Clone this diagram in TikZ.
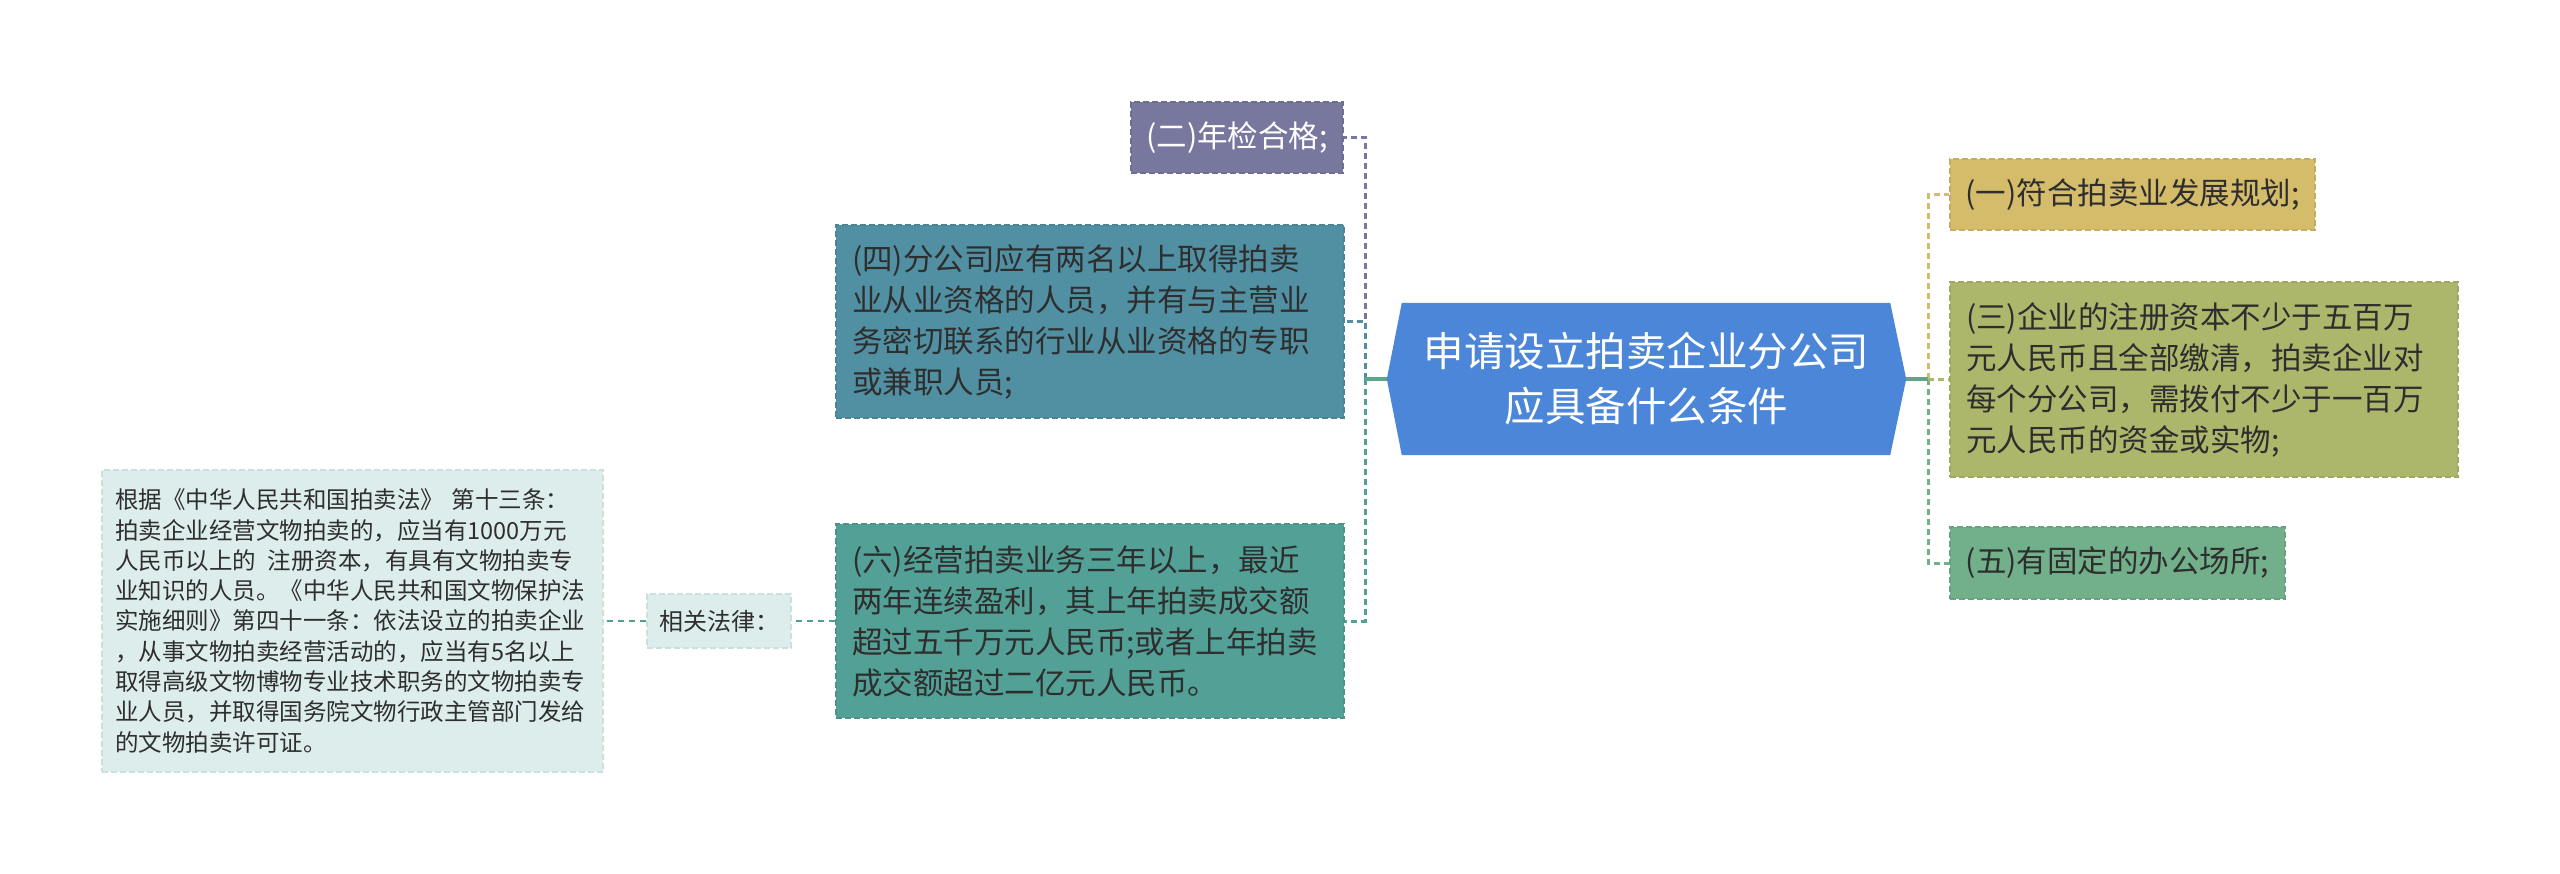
\documentclass[tikz,border=0pt]{standalone}
\usepackage{fontspec}
\setmainfont{Noto Sans CJK SC}
\usetikzlibrary{backgrounds}
\definecolor{cblue}{HTML}{4B86D9}
\definecolor{cpurple}{HTML}{78789F}
\definecolor{cteal}{HTML}{5090A2}
\definecolor{cgreenteal}{HTML}{53A096}
\definecolor{clight}{HTML}{DDEDEC}
\definecolor{clightb}{HTML}{C9E0DD}
\definecolor{cgold}{HTML}{D4BC6B}
\definecolor{colive}{HTML}{ADB76B}
\definecolor{cgreen}{HTML}{72B08B}
\definecolor{cstub}{HTML}{5FA58A}
\definecolor{clawline}{HTML}{4F9E8E}
\definecolor{txt}{HTML}{2E2E2E}
\begin{document}
\begin{tikzpicture}[x=1pt,y=-1pt,
  box/.style={rectangle, inner sep=0pt, text=txt, line width=1.8pt,
    dash pattern=on 6pt off 3pt, font=\fontsize{30.5}{41}\selectfont},
  multibox/.style={box, text width=476pt, inner xsep=16pt, align=left, minimum width=508pt},
  conn/.style={line width=3pt, dash pattern=on 6pt off 4pt},
  stub/.style={line width=3.2pt, draw=cstub},
  lawline/.style={line width=2.4pt, draw=clawline, dash pattern=on 6pt off 5pt}]
\useasboundingbox (0,0) rectangle (2560,873);

% central node
\node[text=white, inner sep=0pt, minimum width=519pt, minimum height=152pt, align=center,
  font=\fontsize{40.5}{55}\selectfont] (c) at (1646.5,379) {申请设立拍卖企业分公司\\应具备什么条件};
\begin{pgfonlayer}{background}
\fill[white] (0,0) rectangle (2560,873);
\fill[cblue] ([xshift=15pt]c.north west) -- ([xshift=-16pt]c.north east) -- (c.east)
  -- ([xshift=-16pt]c.south east) -- ([xshift=15pt]c.south west) -- (c.west) -- cycle;
\end{pgfonlayer}

% left branches
\node[box, fill=cpurple, draw=cpurple!92!black, text=white, minimum width=212pt, minimum height=71pt]
  (n2) at (1237,137.5) {(二)年检合格;};
\node[multibox, fill=cteal, draw=cteal!92!black, minimum height=193pt]
  (n4) at (1090,321.5) {(四)分公司应有两名以上取得拍卖\\业从业资格的人员，并有与主营业\\务密切联系的行业从业资格的专职\\或兼职人员;};
\node[multibox, fill=cgreenteal, draw=cgreenteal!92!black, minimum height=194pt]
  (n6) at (1090,621) {(六)经营拍卖业务三年以上，最近\\两年连续盈利，其上年拍卖成交额\\超过五千万元人民币;或者上年拍卖\\成交额超过二亿元人民币。};

% right branches
\node[box, fill=cgold, draw=cgold!92!black, minimum width=365pt, minimum height=71pt]
  (n1) at (2132.5,194.5) {(一)符合拍卖业发展规划;};
\node[multibox, fill=colive, draw=colive!92!black, minimum height=195pt]
  (n3) at (2204,379.5) {(三)企业的注册资本不少于五百万\\元人民币且全部缴清，拍卖企业对\\每个分公司，需拨付不少于一百万\\元人民币的资金或实物;};
\node[box, fill=cgreen, draw=cgreen!92!black, minimum width=335pt, minimum height=72pt]
  (n5) at (2117.5,563) {(五)有固定的办公场所;};

% law nodes
\node[box, fill=clight, draw=clightb, minimum width=144pt, minimum height=54pt,
  font=\fontsize{24}{30}\selectfont] (nl) at (719,621) {相关法律：};
\node[box, fill=clight, draw=clightb, text width=475pt, inner xsep=13pt, align=left,
  minimum height=302pt, font=\fontsize{23.5}{30.3}\selectfont] (nt) at (352.5,621)
  {根据《中华人民共和国拍卖法》 第十三条：\\拍卖企业经营文物拍卖的，应当有1000万元\\人民币以上的\hspace{12pt}注册资本，有具有文物拍卖专\\业知识的人员。《中华人民共和国文物保护法\\实施细则》第四十一条：依法设立的拍卖企业\\，从事文物拍卖经营活动的，应当有5名以上\\取得高级文物博物专业技术职务的文物拍卖专\\业人员，并取得国务院文物行政主管部门发给\\的文物拍卖许可证。};

% connectors
\coordinate (L) at (1365,379);
\coordinate (R) at (1928,379);
\draw[conn, draw=cpurple] (L) |- (n2.east);
\draw[conn, draw=cteal] (L) |- (n4.east);
\draw[conn, draw=cgreenteal] (L) |- (n6.east);
\draw[stub] (c.west) -- (L);

\draw[conn, draw=cgreen] (R) |- (n5.west);
\draw[conn, draw=cgold] (R) |- (n1.west);
\draw[conn, draw=colive] (R) |- (n3.west);
\draw[stub] (c.east) -- (R);

\draw[lawline] (n6.west) -- (nl.east);
\draw[lawline] (nl.west) -- (nt.east);
\end{tikzpicture}
\end{document}
